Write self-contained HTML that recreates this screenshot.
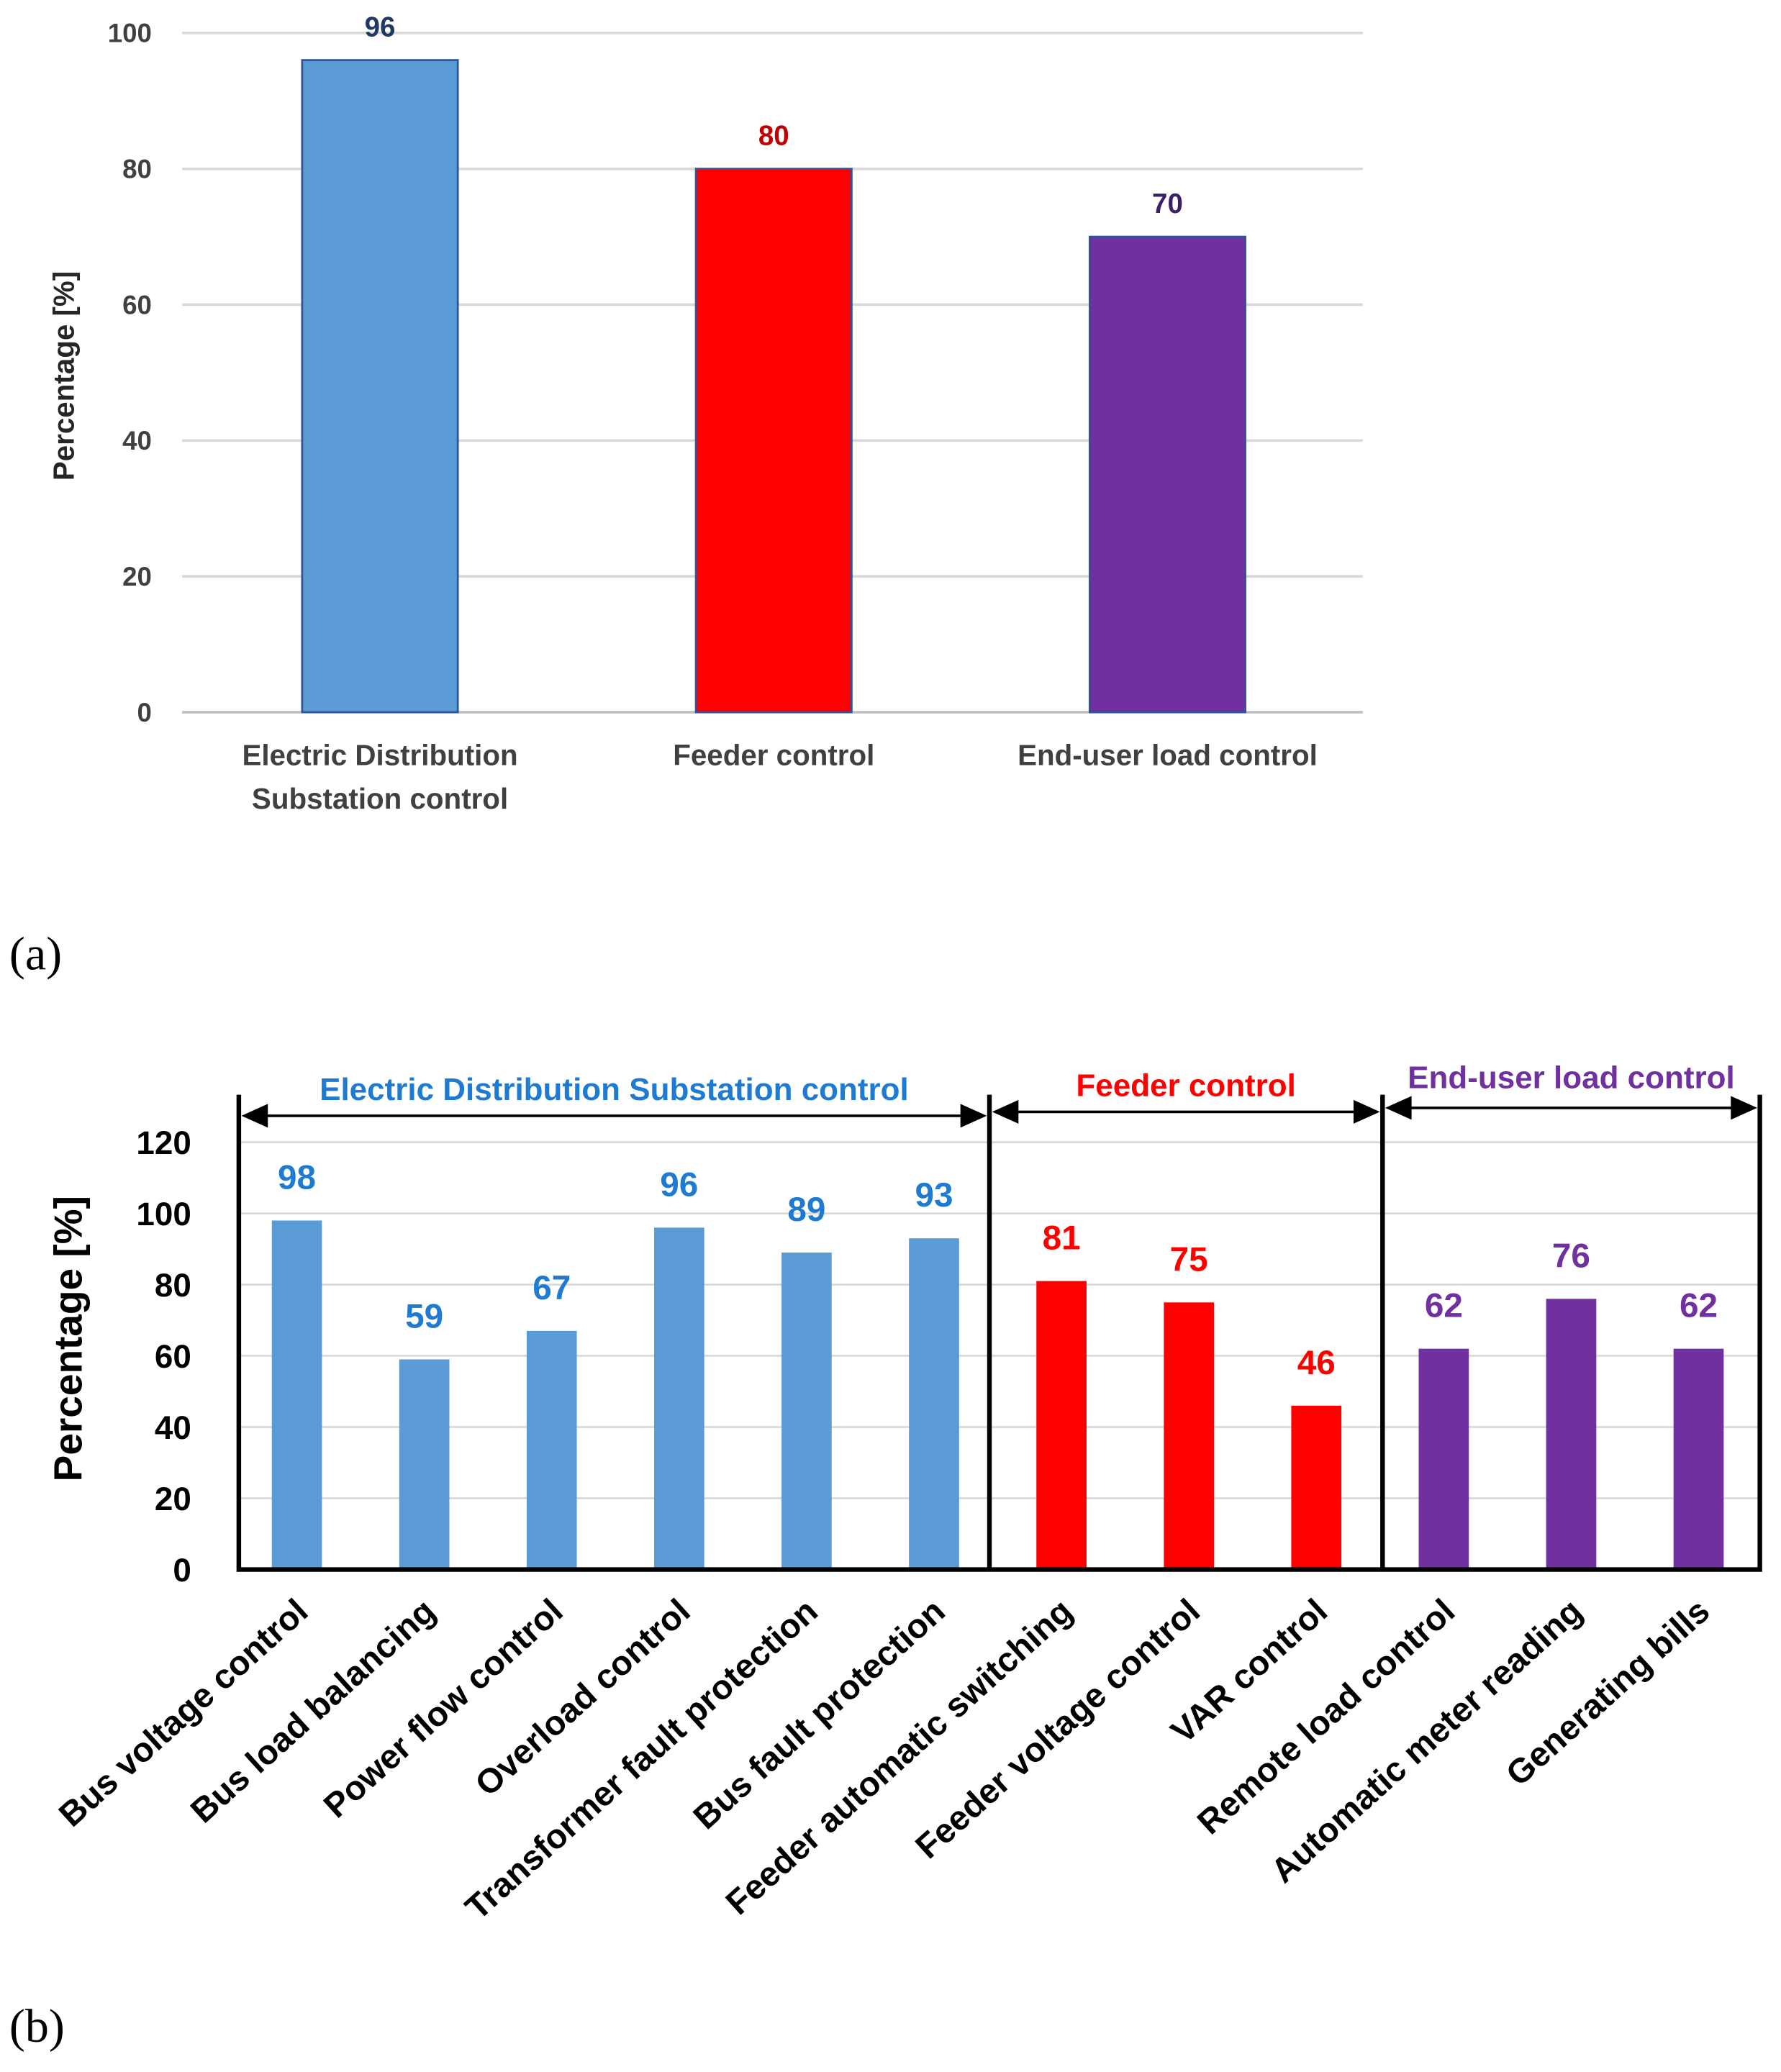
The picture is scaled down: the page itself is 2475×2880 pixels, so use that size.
<!DOCTYPE html>
<html><head><meta charset="utf-8"><style>
html,body{margin:0;padding:0;background:#fff;}
svg{display:block;font-family:"Liberation Sans",sans-serif;}
</style></head><body>
<svg id="chart" width="2475" height="2880" viewBox="0 0 1350 1571" xmlns="http://www.w3.org/2000/svg">
<g id="a"></g>
<g id="b"></g>
<text x="7" y="735" font-family="Liberation Serif, serif" font-size="36">(a)</text>
<text x="7" y="1548" font-family="Liberation Serif, serif" font-size="36">(b)</text>
</svg>
<script>
const catsA = ["Electric Distribution|Substation control", "Feeder control", "End-user load control"];
const valsA = [96, 80, 70];
const colorsA = ["#5b9bd5", "#ff0000", "#7030a0"];
const labelColorsA = ["#1f3864", "#c00000", "#3b1f6b"];
const ticksA = [0, 20, 40, 60, 80, 100];

const catsB = ["Bus voltage control","Bus load balancing","Power flow control","Overload control","Transformer fault protection","Bus fault protection","Feeder automatic switching","Feeder voltage control","VAR control","Remote load control","Automatic meter reading","Generating bills"];
const valsB = [98, 59, 67, 96, 89, 93, 81, 75, 46, 62, 76, 62];
const groupB = [0,0,0,0,0,0,1,1,1,2,2,2];
const groupNames = ["Electric Distribution Substation control", "Feeder control", "End-user load control"];
const groupColors = ["#5b9bd5", "#ff0000", "#7030a0"];
const groupTextColors = ["#1f7ad1", "#ff0000", "#7030a0"];
const ticksB = [0, 20, 40, 60, 80, 100, 120];

const NS = "http://www.w3.org/2000/svg";
function mk(parent, tag, attrs, text) {
  const e = document.createElementNS(NS, tag);
  for (const k in attrs) e.setAttribute(k, attrs[k]);
  if (text !== undefined) e.textContent = text;
  parent.appendChild(e);
  return e;
}

// Chart A
const A = document.getElementById("a");
const yA = v => 540 - v * 5.15;
const xA = i => 288 + i * 298.5;
ticksA.forEach(t => {
  const l = mk(A, "line", {x1:138, x2:1033, y1:yA(t), y2:yA(t), stroke: t===0?"#bfbfbf":"#d9d9d9", "stroke-width":2});
  
  
  const tx = mk(A, "text", {x:115, y:yA(t)+7, "text-anchor":"end", "font-size":20, "font-weight":"bold", fill:"#404040"}, t);
  
  
});
valsA.forEach((v, i) => {
  const r = mk(A, "rect", {x:xA(i)-59, y:yA(v), width:118, height:yA(0)-yA(v), fill:colorsA[i], stroke:"#2f5597", "stroke-width":1.5});
  
  
  const t = mk(A, "text", {x:xA(i), y:yA(v)-18, "text-anchor":"middle", "font-size":21, "font-weight":"bold", fill:labelColorsA[i]}, v);
  
  
  catsA[i].split("|").forEach((ln, j) => {
    const c = mk(A, "text", {x:xA(i), y:580 + j*33, "text-anchor":"middle", "font-size":22, "font-weight":"bold", fill:"#404040"}, ln);
    
    
  });
});
const ytA = mk(A, "text", {transform:"translate(56,285) rotate(-90)", "text-anchor":"middle", "font-size":22, "font-weight":"bold", fill:"#262626"}, "Percentage [%]");



// Chart B
const B = document.getElementById("b");
const yB = v => 1190 - v * 2.7;
const xB = i => 225 + i * 96.6;
ticksB.forEach(t => {
  if (t > 0) {
    const l = mk(B, "line", {x1:181, x2:1334, y1:yB(t), y2:yB(t), stroke:"#d9d9d9", "stroke-width":1.5});
    
    
  }
  const tx = mk(B, "text", {x:145, y:yB(t)+9, "text-anchor":"end", "font-size":25, "font-weight":"bold", fill:"#000"}, t);
  
  
});
valsB.forEach((v, i) => {
  const g = groupB[i];
  const r = mk(B, "rect", {x:xB(i)-19, y:yB(v), width:38, height:yB(0)-yB(v), fill:groupColors[g]});
  
  
  const t = mk(B, "text", {x:xB(i), y:yB(v)-24, "text-anchor":"middle", "font-size":26, "font-weight":"bold", fill:groupTextColors[g]}, v);
  
  
  const c = mk(B, "text", {transform:`translate(${xB(i)+10},${1224}) rotate(-42)`, "text-anchor":"end", "font-size":26, "font-weight":"bold", fill:"#000"}, catsB[i]);
  
  
});
// frame
const frame = mk(B, "path", {d:"M181,830 V1190 H1334 V830 M750,830 V1190 M1048,830 V1190", fill:"none", stroke:"#000", "stroke-width":3.5});


const bounds = [[181,750,846,825],[750,1048,843,822],[1048,1334,840,816]];
bounds.forEach((bd, g) => {
  const [x1,x2,y,ty] = bd;
  const l = mk(B, "line", {x1:x1+20, x2:x2-20, y1:y, y2:y, stroke:"#000", "stroke-width":2});
  
  
  const a1 = mk(B, "path", {d:`M${x1+2},${y} l20,-9 v18 z M${x2-2},${y} l-20,-9 v18 z`, fill:"#000"});
  
  
  const t = mk(B, "text", {x:(x1+x2)/2, y:ty+9, "text-anchor":"middle", "font-size":24, "font-weight":"bold", fill:groupTextColors[g]}, groupNames[g]);
  
  
});
const ytB = mk(B, "text", {transform:"translate(62,1015) rotate(-90)", "text-anchor":"middle", "font-size":30, "font-weight":"bold", fill:"#000"}, "Percentage [%]");


</script>
</body></html>
